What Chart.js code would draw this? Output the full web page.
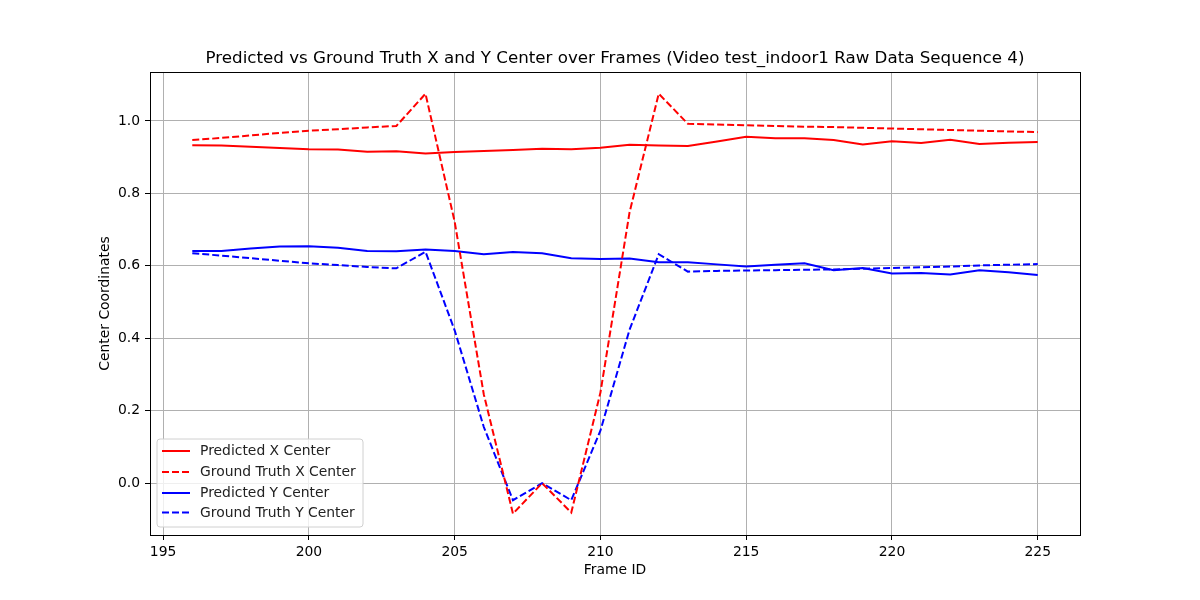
<!DOCTYPE html>
<html>
<head>
<meta charset="utf-8">
<script src="https://cdn.jsdelivr.net/npm/chart.js@4/dist/chart.umd.min.js"></script>
<style>
  body { margin: 0; background: #fff; }
  #wrap { width: 1200px; height: 600px; }
</style>
</head>
<body>
<div id="wrap"><canvas id="chart" width="1200" height="600"></canvas></div>
<script>
// Data
const frames = [196, 197, 198, 199, 200, 201, 202, 203, 204, 205, 206, 207, 208, 209, 210,
                211, 212, 213, 214, 215, 216, 217, 218, 219, 220, 221, 222, 223, 224, 225];

const predX = [0.933, 0.932, 0.929, 0.925, 0.922, 0.921, 0.915, 0.916, 0.910, 0.914, 0.917, 0.920, 0.923, 0.922, 0.926,
               0.934, 0.932, 0.931, 0.943, 0.956, 0.952, 0.952, 0.947, 0.935, 0.944, 0.939, 0.948, 0.936, 0.940, 0.942];

const truthX = [0.947, 0.953, 0.960, 0.967, 0.973, 0.977, 0.982, 0.986, 1.075, 0.722, 0.245, -0.084, 0.000, -0.081, 0.250,
                0.748, 1.075, 0.992, 0.990, 0.988, 0.986, 0.984, 0.983, 0.981, 0.979, 0.977, 0.975, 0.973, 0.971, 0.969];

const predY = [0.641, 0.641, 0.648, 0.653, 0.654, 0.650, 0.641, 0.640, 0.645, 0.641, 0.632, 0.638, 0.635, 0.621, 0.619,
               0.620, 0.610, 0.610, 0.604, 0.598, 0.603, 0.607, 0.588, 0.594, 0.579, 0.580, 0.576, 0.588, 0.582, 0.575];

const truthY = [0.635, 0.628, 0.621, 0.614, 0.607, 0.602, 0.597, 0.593, 0.639, 0.422, 0.155, -0.047, 0.000, -0.047, 0.145,
                0.424, 0.632, 0.584, 0.586, 0.587, 0.588, 0.589, 0.590, 0.592, 0.594, 0.596, 0.598, 0.601, 0.603, 0.605];

const xTicks = [195, 200, 205, 210, 215, 220, 225];
const yTicks = [0.0, 0.2, 0.4, 0.6, 0.8, 1.0];

const seriesNames = ['Predicted X Center', 'Ground Truth X Center', 'Predicted Y Center', 'Ground Truth Y Center'];
const seriesColors = ['#ff0000', '#ff0000', '#0000ff', '#0000ff'];
const seriesDashed = [false, true, false, true];
const seriesValues = [predX, truthX, predY, truthY];

const chartTitle = 'Predicted vs Ground Truth X and Y Center over Frames (Video test_indoor1 Raw Data Sequence 4)';

const FONT = "'DejaVu Sans', sans-serif";
const SMALL = 13.9;

function makeDataset(i) {
    return {
        label: seriesNames[i],
        data: frames.map((f, k) => ({ x: f, y: seriesValues[i][k] })),
        borderColor: seriesColors[i],
        borderWidth: 2,
        borderDash: seriesDashed[i] ? [7, 3] : [],
        pointRadius: 0,
        tension: 0,
        fill: false
    };
}

// frame box, title over the axes and legend in the lower left, like matplotlib
const framePlugin = {
    id: 'frameBox',
    afterDraw(chart) {
        const ctx = chart.ctx;
        const a = chart.chartArea;
        ctx.save();
        ctx.strokeStyle = '#000';
        ctx.lineWidth = 1;
        ctx.setLineDash([]);
        ctx.strokeRect(a.left + 0.5, a.top + 0.5, a.right - a.left, a.bottom - a.top);

        // title
        ctx.fillStyle = '#000';
        ctx.font = '16.7px ' + FONT;
        ctx.textAlign = 'center';
        ctx.textBaseline = 'middle';
        ctx.fillText(chartTitle, (a.left + a.right) / 2, a.top - 13);

        // legend
        const bx = a.left + 7, by = a.top + 367, bw = 206, bh = 88;
        ctx.fillStyle = 'rgba(255,255,255,0.8)';
        ctx.strokeStyle = '#d0d0d0';
        ctx.beginPath();
        ctx.roundRect(bx, by, bw, bh, 3);
        ctx.fill();
        ctx.stroke();

        ctx.font = SMALL + 'px ' + FONT;
        ctx.textAlign = 'left';
        const rows = [12, 33, 54, 73.5];
        seriesNames.forEach((name, i) => {
            const y = by + rows[i];
            ctx.strokeStyle = seriesColors[i];
            ctx.lineWidth = 2;
            ctx.setLineDash(seriesDashed[i] ? [7, 3] : []);
            ctx.beginPath();
            ctx.moveTo(bx + 5, y);
            ctx.lineTo(bx + 33, y);
            ctx.stroke();
            ctx.fillStyle = '#222';
            ctx.fillText(name, bx + 43, y + 0.5);
        });
        ctx.restore();
    }
};

const ctx = document.getElementById('chart').getContext('2d');
new Chart(ctx, {
    type: 'line',
    data: {
        datasets: [0, 1, 2, 3].map(makeDataset)
    },
    options: {
        responsive: false,
        animation: false,
        layout: { padding: { left: 93, right: 120, top: 72, bottom: 17 } },
        plugins: {
            legend: { display: false },
            tooltip: { enabled: false },
            title: { display: false }
        },
        scales: {
            x: {
                type: 'linear',
                min: 194.55,
                max: 226.45,
                afterBuildTicks: s => { s.ticks = xTicks.map(v => ({ value: v })); },
                afterFit: s => { s.height = 48; },
                grid: { color: '#b0b0b0', lineWidth: 1, tickColor: '#000', tickLength: 5 },
                border: { display: false },
                ticks: {
                    color: '#000',
                    font: { family: FONT, size: SMALL },
                    padding: 4,
                    maxRotation: 0,
                    callback: v => String(v)
                },
                title: {
                    display: true,
                    text: 'Frame ID',
                    color: '#000',
                    font: { family: FONT, size: SMALL },
                    padding: { top: 2, bottom: 4 }
                }
            },
            y: {
                type: 'linear',
                min: -0.143,
                max: 1.135,
                afterBuildTicks: s => { s.ticks = yTicks.map(v => ({ value: v })); },
                afterFit: s => { s.width = 57; },
                grid: { color: '#b0b0b0', lineWidth: 1, tickColor: '#000', tickLength: 5 },
                border: { display: false },
                ticks: {
                    color: '#000',
                    font: { family: FONT, size: SMALL },
                    padding: 5,
                    callback: v => Number(v).toFixed(1)
                },
                title: {
                    display: true,
                    text: 'Center Coordinates',
                    color: '#000',
                    font: { family: FONT, size: SMALL },
                    padding: { top: 4, bottom: 4 }
                }
            }
        }
    },
    plugins: [framePlugin]
});
</script>
</body>
</html>
